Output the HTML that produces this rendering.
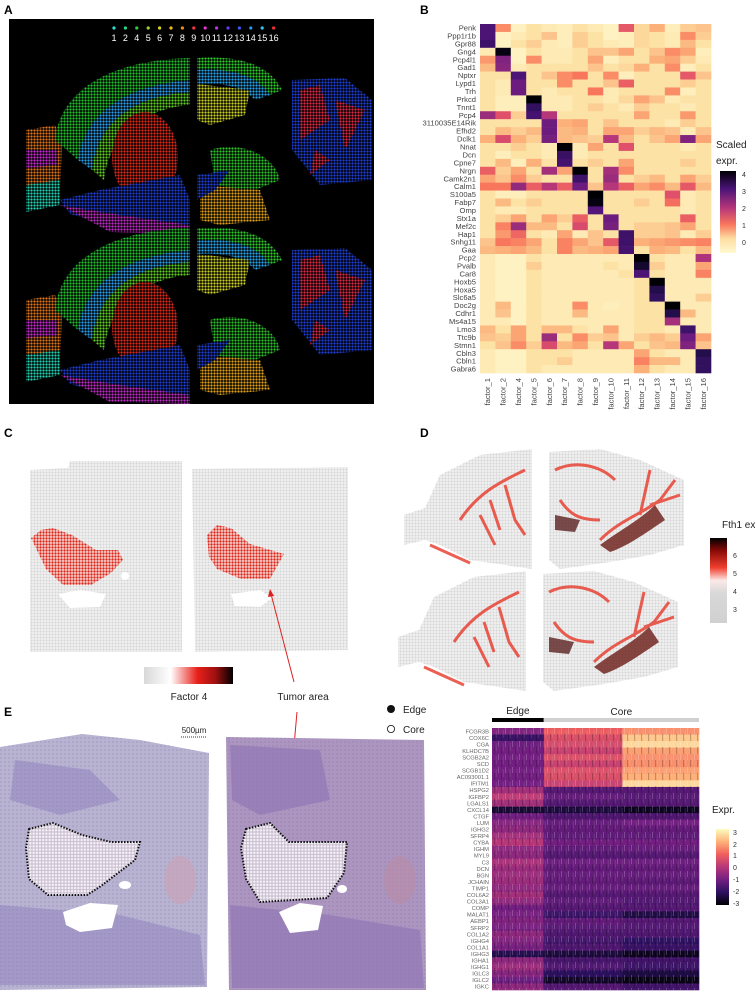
<!DOCTYPE html>
<html><head><meta charset="utf-8">
<style>
html,body{margin:0;padding:0;background:#fff;}
svg{display:block;font-family:"Liberation Sans",sans-serif;}
</style></head>
<body>
<svg id="fig" width="755" height="992" viewBox="0 0 755 992">
<defs id="defs">
 <pattern id="dotsA" width="3" height="3" patternUnits="userSpaceOnUse"><circle cx="1.5" cy="1.5" r="1.15" fill="#fff"/></pattern>
 <mask id="maskA"><rect x="0" y="0" width="755" height="992" fill="url(#dotsA)"/></mask>
 <pattern id="grayDots" width="3" height="3" patternUnits="userSpaceOnUse"><rect width="3" height="3" fill="#f3f3f3"/><circle cx="1.5" cy="1.5" r="1.1" fill="#d6d6d6"/></pattern>
 <pattern id="redDots" width="3" height="3" patternUnits="userSpaceOnUse"><rect width="3" height="3" fill="#fbe3e0"/><circle cx="1.5" cy="1.5" r="1.2" fill="#d9281c"/></pattern>
 <pattern id="whiteDots" width="3.2" height="3.2" patternUnits="userSpaceOnUse"><rect width="3.2" height="3.2" fill="#c9bdd0"/><circle cx="1.6" cy="1.6" r="1.2" fill="#f4f1f6"/></pattern>
 <pattern id="hatchE" width="4" height="4" patternUnits="userSpaceOnUse"><circle cx="1" cy="2" r="0.9" fill="#7e6ea6" opacity="0.35"/></pattern>
 <pattern id="stripeE" width="7" height="13" patternUnits="userSpaceOnUse">
  <rect x="1" y="0" width="1" height="6" fill="#fff" opacity="0.2"/>
  <rect x="4" y="6" width="1.2" height="7" fill="#000" opacity="0.22"/>
  <rect x="5.8" y="2" width="0.8" height="8" fill="#fff" opacity="0.14"/>
 </pattern>
 <linearGradient id="gradC" x1="0" x2="1" y1="0" y2="0">
  <stop offset="0" stop-color="#d8d8d8"/><stop offset="0.3" stop-color="#fff"/><stop offset="0.6" stop-color="#e8201a"/><stop offset="0.8" stop-color="#a01010"/><stop offset="1" stop-color="#000"/>
 </linearGradient>
 <linearGradient id="gradD" x1="0" x2="0" y1="1" y2="0">
  <stop offset="0" stop-color="#d0d0d0"/><stop offset="0.35" stop-color="#d8d8d8"/><stop offset="0.5" stop-color="#fbe9e7"/><stop offset="0.65" stop-color="#f04030"/><stop offset="0.85" stop-color="#8a0a06"/><stop offset="1" stop-color="#000"/>
 </linearGradient>
 <linearGradient id="gradB" x1="0" x2="0" y1="1" y2="0">
  <stop offset="0" stop-color="#fffad0"/><stop offset="0.18" stop-color="#fddca0"/><stop offset="0.35" stop-color="#f8765c"/><stop offset="0.55" stop-color="#b6367a"/><stop offset="0.78" stop-color="#4a1478"/><stop offset="1" stop-color="#000004"/>
 </linearGradient>
 <linearGradient id="gradE" x1="0" x2="0" y1="1" y2="0">
  <stop offset="0" stop-color="#000004"/><stop offset="0.17" stop-color="#2d1160"/><stop offset="0.33" stop-color="#721f81"/><stop offset="0.5" stop-color="#b73779"/><stop offset="0.67" stop-color="#f1605d"/><stop offset="0.83" stop-color="#feb078"/><stop offset="1" stop-color="#fcfdbf"/>
 </linearGradient>
</defs>

<text x="4" y="14" font-size="12" font-weight="bold">A</text>
<text x="420" y="14" font-size="12" font-weight="bold">B</text>
<text x="4" y="437" font-size="12" font-weight="bold">C</text>
<text x="420" y="437" font-size="12" font-weight="bold">D</text>
<text x="4" y="716" font-size="12" font-weight="bold">E</text>

<!-- Panel A -->
<g>
 <rect x="9" y="19" width="365" height="385" fill="#000"/>
 <g mask="url(#maskA)">
  <g id="brainUp">
   <path d="M26 130 L55 125 L62 140 L60 200 L26 210 Z" fill="#e07418"/>
   <path d="M26 150 L58 150 L58 165 L26 168 Z" fill="#c82ad0"/>
   <path d="M26 185 L60 180 L60 205 L26 212 Z" fill="#1fd3b3"/>
   <path d="M55 140 C60 90 110 60 190 58 L190 80 C130 85 85 110 78 160 Z" fill="#22c22e"/>
   <path d="M78 160 C85 110 130 85 190 80 L190 92 C135 96 98 120 92 170 Z" fill="#2aa0f0"/>
   <path d="M92 170 C98 120 135 96 190 92 L190 105 C150 108 110 130 104 180 Z" fill="#5fd020"/>
   <ellipse cx="145" cy="157" rx="33" ry="45" fill="#e02a1a"/>
   <path d="M60 200 L100 190 L180 175 L190 200 L190 232 L120 228 L70 214 Z" fill="#1e3fd8"/>
   <path d="M60 205 L120 215 L190 225 L190 234 L110 232 Z" fill="#c12cc8"/>
   <path d="M197 58 C240 55 270 65 282 90 L270 95 C258 75 230 68 197 70 Z" fill="#2ccf2a"/>
   <path d="M197 70 C230 68 258 75 270 95 L255 100 C245 88 225 82 197 84 Z" fill="#26a4ee"/>
   <path d="M197 84 L250 90 L245 115 L210 125 L197 120 Z" fill="#cdd21e"/>
   <path d="M210 150 C240 140 275 155 280 180 L250 192 L215 185 Z" fill="#2bc22a"/>
   <path d="M200 185 L260 190 L270 220 L220 225 L200 220 Z" fill="#e3a114"/>
   <path d="M197 175 L230 170 L215 190 L197 200 Z" fill="#1e3fd8"/>
   <path d="M292 80 L345 78 L372 100 L372 180 L320 185 L292 150 Z" fill="#1e3fd8"/>
   <path d="M300 90 L320 85 L330 120 L300 140 Z M335 100 L365 110 L345 150 Z M315 150 L330 160 L310 175 Z" fill="#e02a48"/>
  </g>
  <use href="#brainUp" transform="translate(0,170)"/>
 </g>
 <rect x="191" y="40" width="5" height="364" fill="#000"/>
 <g id="legendA"></g>
</g>

<!-- Panel B -->
<g id="panelB"></g>
<g>
 <text x="716" y="148" font-size="10" fill="#222">Scaled</text>
 <text x="716" y="164" font-size="10" fill="#222">expr.</text>
 <rect x="720" y="171" width="16" height="82" fill="url(#gradB)"/>
 <g font-size="7" fill="#333">
  <text x="742" y="177">4</text><text x="742" y="194">3</text><text x="742" y="211">2</text><text x="742" y="228">1</text><text x="742" y="245">0</text>
 </g>
</g>

<!-- Panel C -->
<g>
 <path d="M30 470 L68 468 L70 461 L182 461 L182 652 L30 652 Z" fill="url(#grayDots)"/>
 <path d="M192 469 L348 467 L348 650 L195 652 Z" fill="url(#grayDots)"/>
 <path d="M31 538 L41 530 L53 528 L72 535 L96 550 L118 550 L123 560 L111 573 L91 585 L63 585 L46 569 Z" fill="url(#redDots)"/>
 <path d="M207 535 L217 525 L231 528 L250 544 L284 554 L270 579 L241 579 L217 569 L209 557 Z" fill="url(#redDots)"/>
 <path d="M58 594 L80 590 L106 594 L100 607 L70 608 Z" fill="#fff"/>
 <path d="M231 594 L260 590 L272 598 L260 607 L235 606 Z" fill="#fff"/>
 <circle cx="125" cy="576" r="4" fill="#fff"/>
 <rect x="144" y="667" width="89" height="17" fill="url(#gradC)"/>
 <text x="189" y="700" font-size="10" text-anchor="middle" fill="#222">Factor 4</text>
 <text x="303" y="700" font-size="10" text-anchor="middle" fill="#222">Tumor area</text>
 <line x1="294" y1="682" x2="271" y2="594" stroke="#e02020" stroke-width="1"/>
 <path d="M270 589 L268 597 L274 596 Z" fill="#e02020"/>
 <line x1="297" y1="712" x2="287" y2="825" stroke="#e02020" stroke-width="1"/>
 <path d="M286 830 L283 822 L290 823 Z" fill="#e02020"/>
</g>

<!-- Panel D -->
<g>
 <g id="brainD">
  <path d="M404 515 L425 508 L440 475 L480 455 L532 449 L532 569 L470 560 L440 545 L425 540 L404 545 Z" fill="url(#grayDots)"/>
  <path d="M549 452 L600 449 L640 460 L684 480 L684 545 L650 555 L610 562 L560 569 L549 560 Z" fill="url(#grayDots)"/>
  <g fill="none" stroke="#e8392a" stroke-width="3" opacity="0.8">
   <path d="M460 520 C480 490 505 480 525 470"/>
   <path d="M505 485 L515 520 L525 535"/>
   <path d="M430 545 L470 563"/>
   <path d="M555 470 C575 460 600 465 615 480"/>
   <path d="M560 500 C570 515 580 520 600 520"/>
   <path d="M600 540 C620 520 640 515 660 500 L675 480"/>
   <path d="M640 515 L650 470 M650 505 L680 495"/>
   <path d="M490 500 L500 530 M480 515 L495 545"/>
  </g>
  <path d="M600 545 C620 530 640 520 655 505 L665 520 C650 530 630 545 610 552 Z" fill="#6a1a14" opacity="0.8"/>
  <path d="M555 515 L580 520 L575 532 L555 530 Z" fill="#5a2020" opacity="0.8"/>
 </g>
 <use href="#brainD" transform="translate(-6,122)"/>
 <text x="722" y="528" font-size="10" fill="#222">Fth1 expr.</text>
 <rect x="710" y="538" width="17" height="85" fill="url(#gradD)"/>
 <g font-size="7" fill="#333"><text x="733" y="558">6</text><text x="733" y="576">5</text><text x="733" y="594">4</text><text x="733" y="612">3</text></g>
</g>

<!-- Panel E tissue -->
<g>
 <path d="M0 747 L82 734 L140 740 L209 753 L207 987 L0 990 Z" fill="#b9b3d2"/>
 <path d="M0 747 L82 734 L140 740 L209 753 L207 987 L0 990 Z" fill="url(#hatchE)"/>
 <path d="M15 760 L90 770 L120 800 L60 815 L10 800 Z M0 905 L120 915 L200 935 L205 985 L0 985 Z" fill="#8f84bd" opacity="0.55"/>
 <path d="M226 737 L424 740 L426 990 L229 990 Z" fill="#ac96c0"/>
 <path d="M226 737 L424 740 L426 990 L229 990 Z" fill="url(#hatchE)"/>
 <path d="M230 745 L320 750 L330 800 L260 815 L232 800 Z M230 905 L330 915 L420 930 L424 988 L232 988 Z" fill="#8c6fb0" opacity="0.55"/>
 <path d="M29 829 L53 823 L82 835 L111 842 L140 842 L135 860 L101 886 L87 895 L48 895 L29 879 L26 848 Z" fill="url(#whiteDots)" stroke="#111" stroke-width="2" stroke-dasharray="1.5 1.5"/>
 <path d="M246 829 L270 823 L289 842 L347 842 L344 873 L327 898 L260 902 L246 879 L241 848 Z" fill="url(#whiteDots)" stroke="#111" stroke-width="2" stroke-dasharray="1.5 1.5"/>
 <path d="M63 912 L90 903 L118 905 L112 928 L80 932 L66 925 Z" fill="#fff"/>
 <path d="M279 912 L300 903 L323 906 L318 930 L290 933 Z" fill="#fff"/>
 <ellipse cx="125" cy="885" rx="6" ry="4" fill="#fff"/><ellipse cx="342" cy="889" rx="5" ry="4" fill="#fff"/>
 <ellipse cx="180" cy="880" rx="16" ry="24" fill="#c8a4b8" opacity="0.7"/><ellipse cx="400" cy="880" rx="16" ry="24" fill="#b88ca8" opacity="0.7"/>
 <text x="194" y="733" font-size="8" text-anchor="middle" fill="#222">500µm</text>
 <line x1="181" y1="737" x2="207" y2="737" stroke="#333" stroke-width="1" stroke-dasharray="1 1"/>
 <circle cx="391" cy="709" r="4" fill="#111"/>
 <text x="403" y="713" font-size="10" fill="#222">Edge</text>
 <circle cx="391" cy="729" r="3.6" fill="#fff" stroke="#111" stroke-width="0.8"/>
 <text x="403" y="733" font-size="10" fill="#222">Core</text>
</g>

<g id="panelE"></g>
<g>
 <text x="712" y="813" font-size="10" fill="#222">Expr.</text>
 <rect x="716" y="829" width="13" height="76" fill="url(#gradE)"/>
 <g font-size="7" fill="#333"><text x="733" y="835">3</text><text x="733" y="847">2</text><text x="733" y="858">1</text><text x="733" y="870">0</text><text x="733" y="882">-1</text><text x="733" y="894">-2</text><text x="733" y="906">-3</text></g>
</g>
</svg>

<script>
const factorIds = ["1","2","4","5","6","7","8","9","10","11","12","13","14","15","16"];
const factorColors = ["#2fe0d0","#2ad88a","#38c838","#98d824","#d8d820","#f4c010","#f58a10","#f03a4a","#e03ad0","#b43ae8","#6a3af0","#3a58f0","#2a94f4","#2ac8f4","#f03030"];
const bGenes = ["Penk","Ppp1r1b","Gpr88","Gng4","Pcp4l1","Gad1","Nptxr","Lypd1","Trh","Prkcd","Tnnt1","Pcp4","3110035E14Rik","Efhd2","Dclk1","Nnat","Dcn","Cpne7","Nrgn","Camk2n1","Calm1","S100a5","Fabp7","Omp","Stx1a","Mef2c","Hap1","Snhg11","Gaa","Pcp2","Pvalb","Car8","Hoxb5","Hoxa5","Slc6a5","Doc2g","Cdhr1","Ms4a15","Lmo3","Ttc9b","Stmn1","Cbln3","Cbln1","Gabra6"];
const bFactors = ["factor_1","factor_2","factor_4","factor_5","factor_6","factor_7","factor_8","factor_9","factor_10","factor_11","factor_12","factor_13","factor_14","factor_15","factor_16"];
const bValues = [
[3.2,0.8,-0.4,0,-0.2,-0.3,0,-0.2,-0.4,1.4,0.1,0.5,-0.3,0.2,0.3],
[3.2,-0.4,-0.2,0,0.3,-0.3,0.2,0,-0.4,-0.3,0.1,0,-0.2,0.8,0.2],
[3.4,-0.4,0,0.2,-0.2,-0.3,0.2,0,-0.2,-0.3,0.1,0,-0.2,0.4,0],
[-0.2,4.2,-0.4,0,-0.2,-0.2,0,0.3,0.3,0.6,0,0.3,0.8,0.6,-0.3],
[0.7,2.6,-0.4,0.8,-0.2,-0.2,0,0.6,-0.3,0,0,0.5,0.6,0.2,-0.2],
[0.4,2.5,-0.2,0,0,0,0,0.3,0,0.1,0.5,0,0.8,-0.3,0],
[0,0,3.2,0,0.3,0.8,1.0,0,0.8,-0.3,0,0,0,1.4,0.3],
[0,-0.2,2.8,0,0,0.8,0,0,0.3,1.3,0,0,0,0.2,0],
[0,-0.2,2.8,0,-0.2,0,0,1.0,-0.2,0,0,0,0.8,-0.3,0],
[0,-0.3,-0.3,4.3,-0.2,-0.2,0,0,-0.2,0.1,0.6,0.3,-0.2,0,0],
[0,-0.3,-0.3,3.6,-0.2,-0.2,0,0.2,0,-0.2,0.2,0,0,-0.2,0],
[2.3,1.5,0.2,3.3,2.0,0,0,0,0,0,0.6,0,0,0.7,0],
[0,0,0,0,2.8,0.5,0.6,0,0.3,0,0,0,-0.2,0.2,0],
[0,0.4,0.2,0.4,2.8,0.4,0.5,0,0.6,0.6,0.2,0.4,0.3,-0.2,0.3],
[0.5,1.6,0.5,0.2,2.7,0.4,0.3,0.2,2.0,0.4,0,0.3,0.6,2.6,0.6],
[0,0,0.2,0,-0.2,4.3,-0.2,0.6,0,1.5,0,0,0,-0.2,0],
[0,-0.3,0,0,-0.2,3.5,-0.2,0,0,0,0,0,0,0,0],
[0,0.4,-0.3,0.5,0,3.3,0,0.2,0,0.6,0,0,0,0.2,0],
[1.3,0.2,0.6,0,2.2,0.6,4.3,0,2.2,0.8,0,0,0,0,0],
[0.6,0.3,0.8,0.2,0,0,3.4,0,2.3,0,0.2,0.4,0,0.6,0.2],
[1.0,1.0,2.4,1.3,2.0,1.3,2.8,0.3,2.0,1.3,0.6,0.8,0.4,1.4,0.4],
[0,-0.3,-0.3,0,0,0,0,4.3,0,0,0,0,1.5,-0.2,0],
[0,0.4,0,0.2,0,0,0,4.2,0,0,0.2,0,1.1,-0.2,0],
[0,-0.2,-0.2,0,0,0,0,3.1,0,0,0,0,0,-0.2,0],
[0,0.2,0.6,0,0.6,0.2,1.3,0,2.8,0,0,0,0,1.3,0],
[0,0.9,2.3,0.4,0.4,0,1.6,0,2.7,0,0.2,0.2,0.3,0.6,0],
[0,0.7,1.2,0,-0.2,0.6,-0.2,0.3,0,3.4,0.2,0.2,0.3,-0.2,0.2],
[0.3,1.0,0.9,0.6,0,0.9,0.6,0.3,1.4,3.4,0.5,0.6,0.7,0.8,0.9],
[0.4,0.5,0.6,0.4,0,0.9,0.4,0.5,0.6,3.3,0,0.5,0.4,0,0.4],
[-0.2,-0.4,-0.4,0,-0.2,-0.2,-0.2,-0.2,-0.2,-0.2,4.3,0,-0.2,-0.2,2.1],
[-0.2,-0.4,-0.4,0.2,-0.2,-0.2,-0.2,-0.2,0,-0.2,4.0,0.2,-0.2,-0.2,0.6],
[-0.2,-0.4,-0.4,0,-0.2,-0.2,-0.2,-0.2,-0.2,0,3.2,0,-0.2,-0.2,0.9],
[-0.2,-0.4,-0.4,0,-0.2,-0.2,-0.2,-0.2,-0.2,-0.2,0,4.3,-0.2,-0.2,-0.2],
[-0.2,-0.4,-0.4,0,-0.2,-0.2,-0.2,-0.2,-0.2,-0.2,0,3.8,-0.2,-0.2,-0.2],
[-0.2,-0.4,-0.4,0,-0.2,-0.2,-0.2,-0.2,-0.2,-0.2,0,3.6,-0.2,-0.2,0.2],
[-0.2,0.4,-0.4,0,-0.2,-0.2,0.8,-0.2,-0.3,-0.2,0,0,4.3,-0.2,-0.2],
[-0.2,0.3,-0.4,0,-0.2,-0.2,0.4,-0.2,-0.2,-0.2,0,0,3.8,0.4,-0.2],
[-0.2,-0.2,-0.4,0,-0.2,-0.2,-0.2,-0.2,-0.2,-0.2,0,0,2.2,-0.2,-0.2],
[0.4,0,0.6,0,0.4,0.4,0,-0.2,0.6,-0.2,0,0,-0.2,3.4,-0.2],
[0.3,0.2,0.6,0,2.3,0,0.8,0.2,0.3,-0.2,0.2,0.4,0.2,2.8,0.6],
[0,0.3,0.8,0.2,1.6,0.4,0.6,0,2.0,0.6,0,0.3,0.4,2.6,0.3],
[-0.2,-0.4,-0.4,0,0,0,-0.2,-0.2,-0.2,-0.2,0.6,0,-0.2,-0.2,3.8],
[-0.2,-0.4,-0.4,0,0,0.2,-0.2,-0.2,-0.2,-0.2,0.9,0.4,0.4,-0.2,3.6],
[-0.2,-0.4,-0.4,0,-0.2,-0.2,-0.2,-0.2,-0.2,-0.2,0.5,0,-0.2,-0.2,3.6]
];
const eGenes = ["FCGR3B","COX6C","CGA","KLHDC7B","SCGB2A2","SCD","SCGB1D2","AC093001.1","IFITM1","HSPG2","IGFBP2","LGALS1","CXCL14","CTGF","LUM","IGHG2","SFRP4","CYBA","IGHM","MYL9","C3","DCN","BGN","JCHAIN","TIMP1","COL6A2","COL3A1","COMP","MALAT1","AEBP1","SFRP2","COL1A2","IGHG4","COL1A1","IGHG3","IGHA1","IGHG1","IGLC3","IGLC2","IGKC"];
const eGroups = ["Edge","Core"];
const eEdgeMean = [-0.8,-1.8,-1.1,-1.0,-1.0,-1.0,-1.0,-1.0,-1.0,-0.3,0.1,-0.3,-2.5,-1.0,-0.7,-0.6,-0.3,0,-0.6,-0.6,-0.2,-0.4,-0.4,-0.4,-0.6,-0.3,-0.6,-1.0,-0.9,-0.8,-0.9,-0.6,-0.8,-0.9,-2.2,-0.6,-0.4,-0.7,-1.1,-0.6];
const eCoreAMean = [0.9,0.6,0.5,0.3,0.6,0.3,0.6,0.6,0.3,-1.4,-1.2,-1.4,-2.4,-1.5,-1.2,-1.2,-1.3,-1.0,-1.3,-1.4,-1.1,-1.2,-1.2,-1.2,-1.2,-1.4,-1.3,-1.4,-1.8,-1.2,-1.4,-1.5,-1.7,-1.5,-2.4,-1.6,-1.5,-2.0,-2.6,-1.4];
const eCoreBMean = [1.6,2.3,2.5,1.8,1.6,1.6,1.8,2.0,2.5,-1.4,-1.4,-1.4,-2.7,-1.5,-1.0,-1.2,-1.3,-1.0,-1.2,-1.4,-1.1,-1.2,-1.2,-1.3,-1.2,-1.4,-1.5,-1.4,-2.3,-1.4,-1.5,-1.5,-2.0,-1.8,-2.7,-1.7,-1.8,-2.3,-2.8,-1.7];
const eSegmentFrac = [0.25,0.38,0.37];

const NS = "http://www.w3.org/2000/svg";
function mk(tag, attrs, parent){const e=document.createElementNS(NS,tag);for(const k in attrs)e.setAttribute(k,attrs[k]);parent.appendChild(e);return e;}
function hex(h){return [parseInt(h.slice(1,3),16),parseInt(h.slice(3,5),16),parseInt(h.slice(5,7),16)];}
function ramp(stops, v){
  if(v <= stops[0][0]) return stops[0][1];
  for(let i=1;i < stops.length;i++){ if(v <= stops[i][0]){const a=stops[i-1],b=stops[i];const t=(v-a[0])/(b[0]-a[0]);const c1=hex(a[1]),c2=hex(b[1]);return "rgb("+c1.map((c,j)=>Math.round(c+(c2[j]-c)*t)).join(",")+")";}}
  return stops[stops.length-1][1];
}
const bStops=[[-0.6,"#fffad0"],[0,"#fde2a6"],[0.5,"#fcb07a"],[1,"#f8765c"],[1.5,"#e0506a"],[2,"#b6367a"],[3,"#5a1680"],[3.7,"#2a0f58"],[4.3,"#000004"]];
const eStops=[[-3,"#000004"],[-2,"#2d1160"],[-1,"#721f81"],[0,"#b73779"],[1,"#f1605d"],[2,"#feb078"],[3,"#fcfdbf"]];

const legA=document.getElementById("legendA");
factorIds.forEach((id,i)=>{
  const x=114+i*11.4;
  const d=mk("circle",{cx:x,cy:28,r:1.6,fill:factorColors[i]},legA);
  
  
  const t=mk("text",{x:x,y:41,"font-size":9,fill:"#fff","text-anchor":"middle"},legA);
  t.textContent=id;
  
  
});

const gB=document.getElementById("panelB");
const bx0=480,bx1=711,by0=24,by1=373;
const bw=(bx1-bx0)/bFactors.length,bh=(by1-by0)/bGenes.length;
const bCol=i=>bx0+i*bw;
const bRow=j=>by0+j*bh;
bGenes.forEach((g,j)=>{
  bValues[j].forEach((v,i)=>{
    const r=mk("rect",{x:bCol(i),y:bRow(j),width:bw+0.3,height:bh+0.3,fill:ramp(bStops,v)},gB);
    
    
  });
  const t=mk("text",{x:bx0-4,y:bRow(j)+bh/2+2.6,"font-size":7.6,fill:"#444","text-anchor":"end"},gB);
  t.textContent=g;
  
  
});
bFactors.forEach((f,i)=>{
  const x=bCol(i)+bw/2+2.5, y=378;
  const t=mk("text",{x:x,y:y,"font-size":7.6,fill:"#444","text-anchor":"end",transform:"rotate(-90 "+x+" "+y+")"},gB);
  t.textContent=f;
  
  
});

const gE=document.getElementById("panelE");
const ex0=492,ex1=699,ey0=728,ey1=990;
const eh=(ey1-ey0)/eGenes.length;
const eRow=j=>ey0+j*eh;
const segX=[ex0]; eSegmentFrac.forEach(f=>segX.push(segX[segX.length-1]+f*(ex1-ex0)));
const means=[eEdgeMean,eCoreAMean,eCoreBMean];
eGenes.forEach((g,j)=>{
  means.forEach((m,s)=>{
    const r=mk("rect",{x:segX[s],y:eRow(j),width:segX[s+1]-segX[s]+0.3,height:eh+0.3,fill:ramp(eStops,m[j])},gE);
    
    
  });
  const t=mk("text",{x:ex0-3,y:eRow(j)+eh/2+2,"font-size":5.8,fill:"#666","text-anchor":"end"},gE);
  t.textContent=g;
  
  
});
const stripes=mk("rect",{x:ex0,y:ey0,width:ex1-ex0,height:ey1-ey0,fill:"url(#stripeE)"},gE);


const edgeBar=mk("rect",{x:segX[0],y:718,width:segX[1]-segX[0],height:4,fill:"#000"},gE);


const coreBar=mk("rect",{x:segX[1],y:718,width:ex1-segX[1],height:4,fill:"#d0d0d0"},gE);


const te=mk("text",{x:(segX[0]+segX[1])/2,y:714,"font-size":10,"text-anchor":"middle",fill:"#222"},gE);
te.textContent=eGroups[0];


const tc=mk("text",{x:(segX[1]+ex1)/2,y:715,"font-size":10,"text-anchor":"middle",fill:"#222"},gE);
tc.textContent=eGroups[1];


</script>
</body></html>
